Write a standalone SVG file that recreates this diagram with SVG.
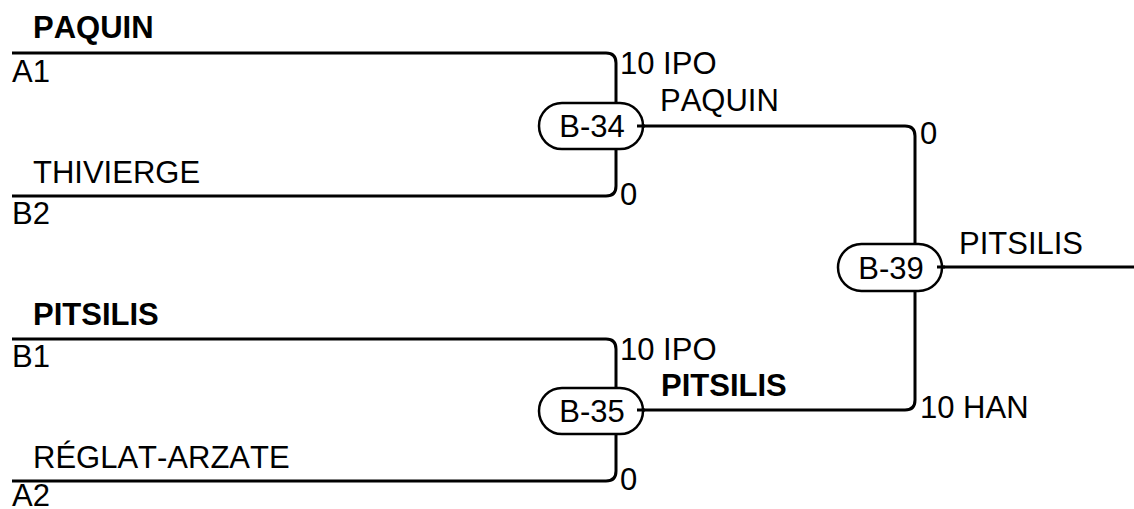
<svg xmlns="http://www.w3.org/2000/svg" width="1134" height="509" viewBox="0 0 1134 509">
<style>
text{font-family:"Liberation Sans",Arial,sans-serif;font-size:31px;fill:#000;font-kerning:none}
.b{font-weight:bold}
.w{fill:none;stroke:#000;stroke-width:3}
.n{fill:#fff;stroke:#000;stroke-width:2.5}
.c{text-anchor:middle}
</style>
<rect width="1134" height="509" fill="#fff"/>
<g id="connectors">
<path class="w" d="M12,53 H606 Q616,53 616,63 V103"/>
<path class="w" d="M12,196 H606 Q616,196 616,186 V149"/>
<path class="w" d="M637,126 H905 Q915,126 915,136 V244"/>
<path class="w" d="M12,339 H606 Q616,339 616,349 V388"/>
<path class="w" d="M12,481 H606 Q616,481 616,471 V434"/>
<path class="w" d="M637,410 H905 Q915,410 915,400 V291"/>
<path class="w" d="M937,267 H1134"/>
</g>
<g id="node-B-34">
<rect class="n" x="539" y="103" width="104" height="46" rx="23"/>
<text class="c" x="592" y="137">B-34</text>
</g>
<g id="node-B-35">
<rect class="n" x="539" y="388" width="104" height="46" rx="23"/>
<text class="c" x="592" y="422">B-35</text>
</g>
<g id="node-B-39">
<rect class="n" x="838" y="244" width="104" height="47" rx="23.5"/>
<text class="c" x="891" y="279">B-39</text>
</g>
<g id="connector-ticks">
<path class="w" stroke-width="2.5" d="M637,126 H645"/>
<path class="w" stroke-width="2.5" d="M637,410 H645"/>
<path class="w" stroke-width="2.5" d="M937,267 H945"/>
</g>
<g id="labels">
<text class="b" x="33" y="38">PAQUIN</text>
<text x="12" y="82">A1</text>
<text x="33" y="183">THIVIERGE</text>
<text x="12" y="224">B2</text>
<text class="b" x="33" y="325">PITSILIS</text>
<text x="12" y="367">B1</text>
<text x="33" y="468">RÉGLAT-ARZATE</text>
<text x="12" y="506">A2</text>
<text x="620" y="74">10 IPO</text>
<text x="620" y="205">0</text>
<text x="660" y="111">PAQUIN</text>
<text x="620" y="360">10 IPO</text>
<text x="620" y="490">0</text>
<text class="b" x="661" y="396">PITSILIS</text>
<text x="920" y="144">0</text>
<text x="959" y="254">PITSILIS</text>
<text x="920" y="418">10 HAN</text>
</g>
</svg>
